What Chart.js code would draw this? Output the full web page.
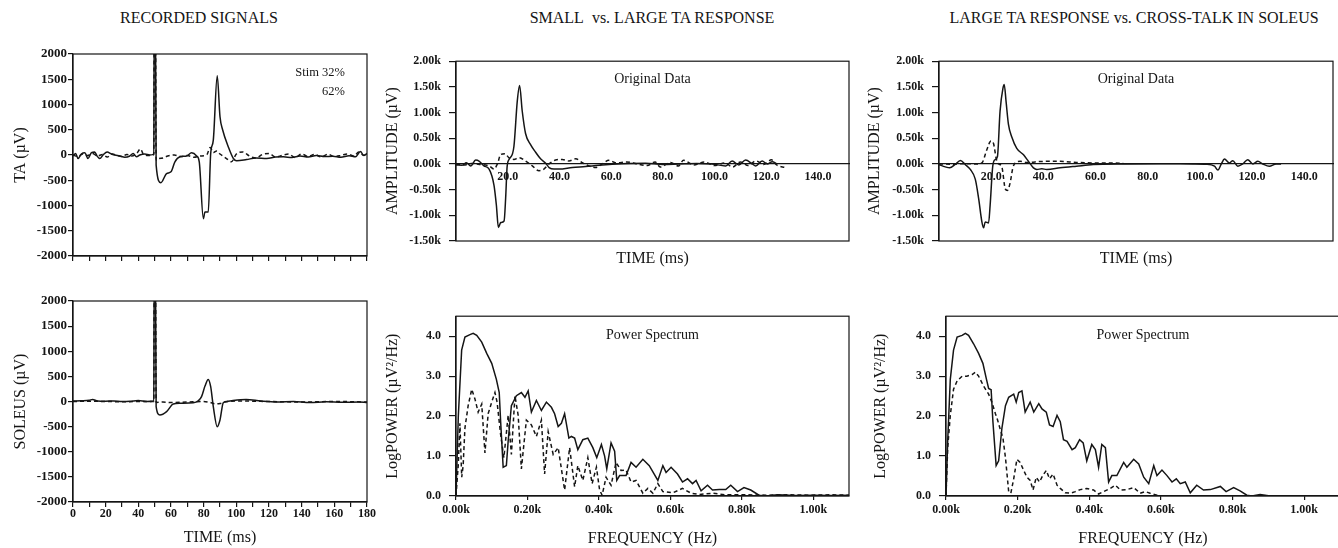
<!DOCTYPE html>
<html>
<head>
<meta charset="utf-8">
<script src="https://cdn.jsdelivr.net/npm/chart.js@4.4.1/dist/chart.umd.min.js"></script>
<style>
  body { margin: 0; width: 1338px; height: 548px; overflow: hidden; background: #fff; position: relative;
         font-family: "Liberation Serif", "Times New Roman", serif; color: #151515; }
  canvas { position: absolute; }
  .head { position: absolute; top: 9px; font-size: 16px; white-space: nowrap; transform: translateX(-50%); }
</style>
</head>
<body>
<div class="head" style="left:199px">RECORDED SIGNALS</div>
<div class="head" style="left:652px">SMALL&nbsp; vs. LARGE TA RESPONSE</div>
<div class="head" style="left:1134px">LARGE TA RESPONSE vs. CROSS-TALK IN SOLEUS</div>
<canvas id="ta"></canvas>
<canvas id="sol"></canvas>
<canvas id="amp1"></canvas>
<canvas id="pow1"></canvas>
<canvas id="amp2"></canvas>
<canvas id="pow2"></canvas>
<script>
// ---- recorded signals (ms, µV) ----
const taTime62 = [0,1.6,3.1,5.1,7.2,9.2,11.3,13.3,14.7,16.4,18.4,20.9,23.5,25.6,28.6,31.7,34.8,36.8,38.9,40.9,44,47,49.5,49.7,50.5,50.9,53.8,57.3,60,62.4,65.5,69.5,72.6,75.7,77.3,79.8,80.8,82.8,84.3,85.9,88.3,90,91.6,95.1,98.2,100.2,106.3,112,118.6,124,128.8,134,139,144,149,154,159,164,169,173,176,178,180];
const taAmp62  = [-20,30,-70,20,45,-70,45,60,-20,-70,0,60,20,0,-20,-45,-20,30,-35,0,20,0,20,2600,2600,-200,-550,-367,-333,-135,-35,-20,43,-20,-135,-1260,-1130,-1130,30,295,1570,757,500,160,-70,-115,-90,-60,-70,-40,-35,-50,-20,-40,-10,-30,-25,-45,-15,-35,70,-10,30];
const taTime32 = [0,3,6,9,12,15,18,21,24,27,30,33,36,39,41.3,43,46,49.5,49.7,50.5,50.9,52.5,55,58,62,66,70,74,78,82,84,86,88,90,94,97,100,104,108,112,116,120,124,128,132,136,140,144,148,152,156,160,164,168,172,175,178,180];
const taAmp32  = [0,-30,20,-10,30,-20,10,-40,20,-10,-30,10,-20,30,120,20,-10,10,2600,2600,-100,-70,-60,-20,0,-30,-10,-45,-20,10,150,50,80,20,-70,-135,20,60,-20,-60,10,30,-40,-10,20,-50,20,-30,10,-40,15,-30,-10,20,-20,60,-5,20];
const solTime62 = [0,5,10,12,15,20,25,30,35,40,45,49.5,49.7,50.5,50.9,53.2,57.3,61.4,65.5,73.6,76.7,78.7,80.8,82.8,84.3,85.9,88.3,90,92,94,98,106,115,125,135,145,155,165,175,180];
const solAmp62  = [10,15,25,40,10,5,10,0,5,20,0,10,2600,2600,-100,-268,-200,-50,-36,-25,15,96,307,440,294,-102,-500,-367,-23,0,20,40,10,-10,0,-20,-5,-15,-10,-20];
const solTime32 = [0,10,20,30,40,49.5,49.7,50.5,50.9,55,60,70,80,84,87,90,93,100,120,140,160,180];
const solAmp32  = [0,5,0,-5,0,0,2600,2600,-20,-10,-20,-10,0,-20,-45,-40,-10,10,0,-10,0,-10];

// ---- small vs large TA response (ms, µV) ----
const largeTaTime = [0,2.4,4,5.7,7.6,8.9,10.8,12.8,14.7,15.6,16.4,17.3,18.6,19.2,19.8,20.7,22.4,23.7,24.6,25.6,26.9,28.9,30.8,32.7,34.7,36,37.9,39.8,45,50.1,55.3,60.4,67,73.3,80,86.2,93,99,104.3,106.8,109.4,112,114.6,115.9,118.4,120.4,122.3,124.2];
const largeTaAmp  = [-20,-25,25,-40,75,57,-38,-100,-416,-794,-1236,-1141,-1110,-668,-38,100,340,1223,1527,1035,593,372,227,100,13,-70,-100,-100,-70,-50,-25,-6,10,13,-10,0,10,0,-38,57,-19,75,0,-38,57,0,44,0];
const smallTaTime = [0,3,6,9,12.8,14.7,16,17.3,18.9,20.5,22.4,24.4,26.9,29.5,32.1,34,36,38.5,41.1,43.7,46.3,48.8,51.4,54,56.6,59.1,62,66,70,74,77,79,83,86,88,92,96,100,104,107,110,113,116,119,122,124,127.4];
const smallTaAmp  = [0,-20,10,-10,-38,-100,0,183,200,120,88,120,57,-38,-132,-100,0,75,88,57,100,25,-38,-70,0,70,20,40,0,-30,40,-60,30,-40,70,-20,40,-30,20,-60,40,-30,60,-10,80,-20,-70];

// ---- large TA vs soleus cross-talk (ms, µV) ----
const largeTa2Time = [0,2.4,4.1,6.2,8.2,10.1,12,13.9,15.2,16.4,17.1,17.7,19,19.6,20.6,21.5,22.4,23.4,24.5,25,25.7,26.6,27.9,29.8,32.4,34.3,36.2,37.5,39.4,41.3,46.4,52.7,59.1,71.8,85,97.3,102.4,105.6,106.9,108.2,109.4,111.3,112.6,114.5,116.4,118.3,120.3,122.2,124.1,126.6,129.2,131.1];
const largeTa2Amp  = [-13,-57,-76,-10,69,-13,-107,-296,-675,-1116,-1242,-1129,-1148,-801,-44,82,145,1028,1469,1545,1217,776,523,303,177,50,-76,-107,-95,-107,-76,-44,-13,0,5,0,-5,-44,-120,0,95,19,63,-44,0,82,0,50,0,-44,0,0];
const crossTime = [0,5,10,14,16.4,18.3,19.9,20.9,21.9,22.8,24,25.4,26.2,27.3,28.3,29.2,31.1,33.6,40,46.4,52.7,59.1,70.6];
const crossAmp  = [0,-5,5,0,20,271,448,397,113,0,-40,-486,-517,-359,-76,19,50,30,50,50,30,20,15];

// ---- power spectra (Hz, log µV²/Hz) ----
const largeFreq = [0,6.5,15.8,25,39,48,58,72,86,100,113,121,125,132,141,146,155,169,183,193,202,211,225,239,253,267,276,286,295,304,316,323,332,341,355,369,383,394,407,416,422,434,444,450,458,476,490,504,523,541,565,579,588,602,620,634,648,662,672,686,704,718,737,755,769,788,806,825,848,867,900,950,1000,1050,1100];
const largePow  = [0,2.0,3.65,3.98,4.04,4.07,4.02,3.85,3.57,3.32,2.92,2.59,1.86,0.72,0.76,1.37,2.26,2.51,2.59,2.47,2.63,2.1,2.39,2.14,2.35,2.22,2.06,1.74,1.82,2.06,1.45,1.49,1.45,1.16,1.41,1.45,1.21,0.96,1.29,1.0,0.68,1.33,1.12,0.39,0.51,0.51,0.84,0.72,0.92,0.76,0.39,0.76,0.59,0.72,0.55,0.35,0.43,0.31,0.39,0.13,0.27,0.15,0.16,0.16,0.27,0.11,0.21,0.15,0.02,0,0.03,0.01,0.02,0.01,0.02];
const smallFreq = [0,6.5,11,16,20,25,34,44,53,62,72,81,90,100,109,115,125,134,146,155,165,174,183,197,211,225,239,248,258,272,286,304,318,332,341,355,369,381,393,402,409,420,434,448,462,476,490,504,523,537,551,565,579,607,634,658,681,718,755,811,870,930,990,1050,1100];
const smallPow  = [0,0.8,1.82,0.47,0.76,1.7,2.26,2.67,2.43,2.1,2.3,1.08,2.06,2.35,2.59,2.35,1.53,0.96,2.02,1.04,2.51,2.02,0.68,1.9,1.78,1.49,1.9,0.55,1.61,1.04,1.21,0.15,1.21,0.23,0.76,0.39,0.96,0.31,0.72,0.15,0.02,0.47,0.27,0.84,0.64,0.65,0.35,0.39,0.07,0.19,0.07,0.31,0.11,0.08,0.19,0.07,0.04,0.07,0.03,0.03,0.02,0.03,0.02,0.03,0.02];
const largeFreq2 = [0,4.7,12,21,31,45,54,63,77,91,103,113,119,126,131,140,147,156,166,175,189,196,203,212,221,235,245,259,268,280,289,299,310,319,328,338,352,361,373,383,393,407,417,426,435,445,454,463,477,496,505,524,538,552,566,580,589,603,617,631,643,654,668,682,700,719,738,766,782,803,821,840,854,877,891,905,950,1000,1050,1100];
const largePow2  = [0,1.37,2.92,3.65,3.98,4.02,4.07,4.02,3.81,3.57,3.32,2.92,2.69,2.66,1.86,0.76,0.88,1.69,2.26,2.47,2.55,2.35,2.59,2.63,2.1,2.35,2.1,2.31,2.18,2.1,1.78,1.74,2.02,1.86,1.41,1.37,1.16,1.21,1.41,1.33,0.88,1.29,1.16,0.72,1.29,1.21,0.35,0.51,0.51,0.84,0.72,0.92,0.8,0.47,0.31,0.76,0.51,0.65,0.51,0.35,0.43,0.31,0.35,0.08,0.27,0.15,0.16,0.24,0.11,0.21,0.13,0.02,0,0.04,0.02,0,0,0,0,0];
const crossFreq = [0,4.7,12,21,31,45,58,73,82,91,105,119,128,138,144,152,159,166,175,181,189,198,207,217,226,235,243,252,261,270,280,289,299,310,319,333,347,361,375,393,412,426,440,459,473,487,505,524,542,556,570,589,607];
const crossPow  = [0,1.2,2.02,2.67,2.88,3.0,3.0,3.04,3.1,3.0,2.75,2.55,2.35,2.06,1.9,1.65,1.45,0.96,0.11,0.07,0.43,0.92,0.84,0.64,0.47,0.39,0.15,0.47,0.35,0.51,0.64,0.43,0.55,0.27,0.19,0.08,0.07,0.11,0.16,0.19,0.15,0.05,0.11,0.19,0.27,0.15,0.16,0.21,0.07,0.11,0.07,0.02,0];

const FONT = '"Liberation Serif", "Times New Roman", serif';
const INK = '#151515';
Chart.defaults.font.family = FONT;
Chart.defaults.color = INK;

const tickFont = { family: FONT, size: 12, weight: 'bold' };
const bigTickFont = { family: FONT, size: 13, weight: 'bold' };
const titleFont = { family: FONT, size: 16 };

// box round the plot area plus the small notes written inside it
const framePlugin = {
    id: 'frame',
    afterDatasetsDraw(chart, args, opts) {
        const { ctx, chartArea: a } = chart;
        ctx.save();
        ctx.strokeStyle = INK;
        ctx.lineWidth = 1.2;
        ctx.strokeRect(a.left, a.top, a.right - a.left, a.bottom - a.top);
        if (opts.lines) {
            ctx.fillStyle = INK;
            ctx.font = opts.size + 'px ' + FONT;
            ctx.textBaseline = 'middle';
            opts.lines.forEach((txt, i) => {
                if (opts.right) {
                    ctx.textAlign = 'right';
                    ctx.fillText(txt, a.right - opts.right, a.top + opts.dy + i * 19);
                } else {
                    ctx.textAlign = 'center';
                    ctx.fillText(txt, (a.left + a.right) / 2, a.top + opts.dy + i * 19);
                }
            });
        }
        ctx.restore();
    }
};

function line(xs, ys, dashed, smooth) {
    return {
        data: xs.map((x, i) => ({ x: x, y: ys[i] })),
        borderColor: INK,
        borderWidth: 1.5,
        borderDash: dashed ? [4, 3] : [],
        pointRadius: 0,
        fill: false,
        tension: 0,
        cubicInterpolationMode: smooth ? 'monotone' : 'default',
        xAxisID: 'x',
        yAxisID: 'y'
    };
}

function place(id, left, top, width, height) {
    const cv = document.getElementById(id);
    cv.width = width;
    cv.height = height;
    cv.style.left = left + 'px';
    cv.style.top = top + 'px';
    return cv;
}

function makeChart(cv, datasets, scales, note, padRight) {
    return new Chart(cv, {
        type: 'line',
        data: { datasets: datasets },
        options: {
            responsive: false,
            animation: false,
            devicePixelRatio: 1,
            layout: { padding: { top: 10, right: padRight, left: 0, bottom: 0 } },
            plugins: { legend: { display: false }, tooltip: { enabled: false }, frame: note || {} },
            scales: scales
        },
        plugins: [framePlugin]
    });
}

// ---- left column: recorded signals ----
function signalScales(title, xLabels, xH) {
    return {
        x: {
            type: 'linear', position: 'bottom', min: 0, max: 180,
            ticks: { stepSize: 10, autoSkip: false, maxRotation: 0, padding: 0, font: tickFont,
                     callback: v => (xLabels && v % 20 === 0) ? String(v) : '' },
            grid: { drawOnChartArea: false, tickLength: 5, color: INK, lineWidth: 1.2 },
            border: { color: INK, width: 1.2 },
            title: { display: xLabels, text: 'TIME (ms)', font: titleFont, padding: { top: 0, bottom: 1 } },
            afterFit: s => { s.height = xH; }
        },
        y: {
            min: -2000, max: 2000,
            ticks: { stepSize: 500, padding: 1, font: bigTickFont, callback: v => String(v) },
            grid: { drawOnChartArea: false, tickLength: 5, color: INK, lineWidth: 1.2 },
            border: { color: INK, width: 1.2 },
            title: { display: true, text: title, font: titleFont, padding: { top: 11, bottom: 0 } },
            afterFit: s => { s.width = 73; }
        }
    };
}

makeChart(place('ta', 0, 44, 382, 232),
    [line(taTime32, taAmp32, true, true), line(taTime62, taAmp62, false, true)],
    signalScales('TA (µV)', false, 20),
    { lines: ['Stim 32%', '62%'], size: 12.5, dy: 19, right: 22 }, 15);

makeChart(place('sol', 0, 291, 382, 257),
    [line(solTime32, solAmp32, true, true), line(solTime62, solAmp62, false, true)],
    signalScales('SOLEUS (µV)', true, 46), null, 15);

// ---- amplitude panels: time axis crosses at zero ----
function ampScales(yW, xMax) {
    return {
        x: {
            type: 'linear', position: { y: 0 }, min: 0, max: xMax,
            afterBuildTicks: s => { s.ticks = s.ticks.filter(t => t.value > 0 && t.value % 20 === 0); },
            ticks: { stepSize: 20, includeBounds: false, autoSkip: false, maxRotation: 0, padding: 6, font: tickFont,
                     callback: v => v.toFixed(1) },
            grid: { display: false, drawTicks: false },
            border: { color: INK, width: 1.2 }
        },
        x2: {
            type: 'linear', position: 'bottom', min: 0, max: xMax,
            ticks: { display: false },
            grid: { display: false },
            border: { display: false },
            title: { display: true, text: 'TIME (ms)', font: titleFont, padding: { top: 0, bottom: 0 } },
            afterFit: s => { s.height = 27; }
        },
        y: {
            min: -1500, max: 2000,
            ticks: { stepSize: 500, padding: 8, font: tickFont, callback: v => (v / 1000).toFixed(2) + 'k' },
            grid: { drawOnChartArea: false, tickLength: 7, color: INK, lineWidth: 1.2 },
            border: { color: INK, width: 1.2 },
            title: { display: true, text: 'AMPLITUDE (µV)', font: titleFont, padding: { top: 7, bottom: 0 } },
            afterFit: s => { s.width = yW; }
        }
    };
}

// ---- power spectrum panels ----
function powScales(yW) {
    return {
        x: {
            type: 'linear', position: 'bottom', min: 0, max: 1100,
            afterBuildTicks: s => { s.ticks = s.ticks.filter(t => t.value % 200 === 0); },
            ticks: { stepSize: 200, includeBounds: false, autoSkip: false, maxRotation: 0, padding: 3, font: tickFont,
                     callback: v => (v / 1000).toFixed(2) + 'k' },
            grid: { drawOnChartArea: false, tickLength: 4, color: INK, lineWidth: 1.2 },
            border: { color: INK, width: 1.2 },
            title: { display: true, text: 'FREQUENCY (Hz)', font: titleFont, padding: { top: 0, bottom: 0 } },
            afterFit: s => { s.height = 52; }
        },
        y: {
            min: 0, max: 4.5,
            afterBuildTicks: s => { s.ticks = s.ticks.filter(t => Number.isInteger(t.value)); },
            ticks: { stepSize: 1, includeBounds: false, padding: 8, font: tickFont, callback: v => v.toFixed(1) },
            grid: { drawOnChartArea: false, tickLength: 7, color: INK, lineWidth: 1.2 },
            border: { color: INK, width: 1.2 },
            title: { display: true, text: 'LogPOWER (µV²/Hz)', font: titleFont, padding: { top: 7, bottom: 0 } },
            afterFit: s => { s.width = yW; }
        }
    };
}

const origNote = { lines: ['Original Data'], size: 14, dy: 18 };
const powNote = { lines: ['Power Spectrum'], size: 14, dy: 19 };

makeChart(place('amp1', 376, 46, 483, 222),
    [line(smallTaTime, smallTaAmp, true, true), line(largeTaTime, largeTaAmp, false, true)],
    ampScales(80, 152), origNote, 10);

makeChart(place('pow1', 376, 301, 483, 247),
    [line(smallFreq, smallPow, true, false), line(largeFreq, largePow, false, false)],
    powScales(80), powNote, 10);

makeChart(place('amp2', 858, 46, 485, 222),
    [line(crossTime, crossAmp, true, true), line(largeTa2Time, largeTa2Amp, false, true)],
    ampScales(81, 151), origNote, 10);

makeChart(place('pow2', 864, 301, 486, 247),
    [line(crossFreq, crossPow, true, false), line(largeFreq2, largePow2, false, false)],
    powScales(82), powNote, 10);
</script>
</body>
</html>
